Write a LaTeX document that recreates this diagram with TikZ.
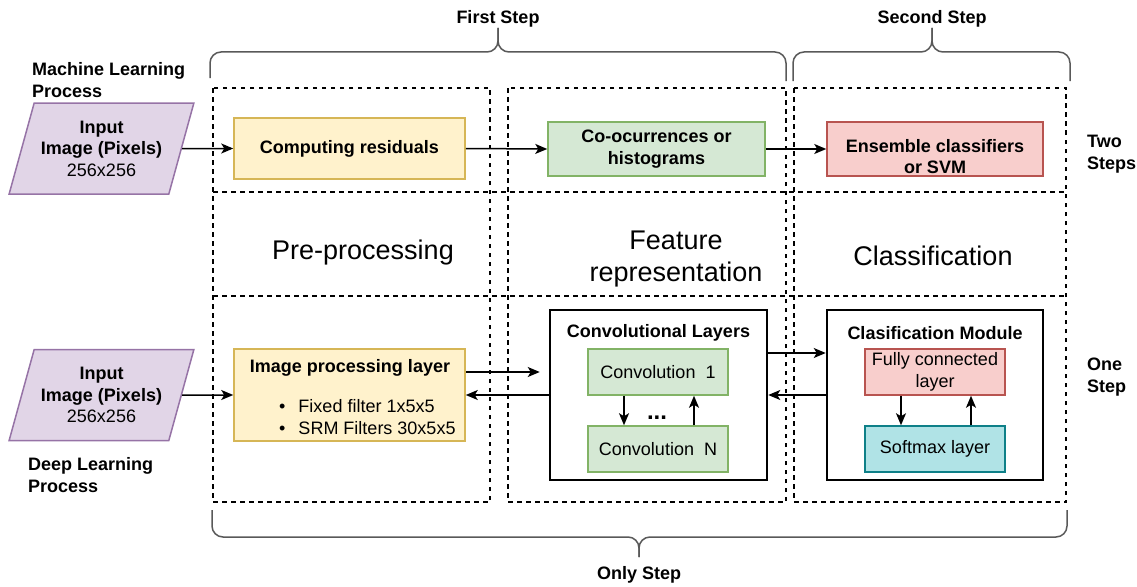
\documentclass[tikz,border=0pt]{standalone}
\usepackage{fontspec}
\setmainfont{Liberation Sans}
\usepackage{xcolor}
\usepackage{tikz}
\usetikzlibrary{arrows.meta,shapes.geometric,positioning}
\tikzset{>={Stealth[length=12pt,width=10pt,inset=3pt]}}
\definecolor{inpfill}{HTML}{E1D5E7}
\definecolor{inpdraw}{HTML}{9673A6}
\definecolor{yelfill}{HTML}{FFF2CC}
\definecolor{yeldraw}{HTML}{D6B656}
\definecolor{grnfill}{HTML}{D5E8D4}
\definecolor{grndraw}{HTML}{82B366}
\definecolor{redfill}{HTML}{F8CECC}
\definecolor{reddraw}{HTML}{B85450}
\definecolor{cyfill}{HTML}{B0E3E6}
\definecolor{cydraw}{HTML}{0E8088}
\newcommand{\mysize}{\fontsize{18}{21.6}\selectfont}
\newcommand{\mybig}{\fontsize{27}{32.4}\selectfont}

\begin{document}
\begin{tikzpicture}[x=1pt,y=-1pt,
                    every node/.style={inner sep=0pt, font=\mysize, align=center},
                    mydash/.style={line width=1.5pt, dash pattern=on 4.5pt off 4.5pt},
                    mybrace/.style={line width=1.5pt, black!65, rounded corners=11pt},
                    conn/.style={line width=1.5pt, ->},
                    colbox/.style 2 args={draw=#1, fill=#2, line width=1.5pt},
                    module/.style={draw, fill=white, line width=2.5pt, minimum width=217pt, minimum height=170pt},
                    inputbox/.style={trapezium, trapezium left angle=68, trapezium right angle=112,
                                     trapezium stretches=true, minimum width=185pt, minimum height=91pt,
                                     colbox={inpdraw}{inpfill}},
                   ]

\useasboundingbox (0,0) rectangle (1137,586);

\draw[mydash] (213,88) rectangle (490,502);
\draw[mydash] (508,88) rectangle (786,502);
\draw[mydash] (794,88) rectangle (1066,502);
\draw[mydash] (213,192) -- (1066,192);
\draw[mydash] (213,296) -- (1066,296);

\draw[mybrace] (210,78) |- (498,52) -- (498,28);
\draw[mybrace] (786,81) |- (498,52) -- (498,28);
\draw[mybrace] (793,81) |- (932,52) -- (932,28);
\draw[mybrace] (1070,81) |- (932,52) -- (932,28);
\draw[mybrace] (212,510) |- (639,537) -- (639,557);
\draw[mybrace] (1067,510) |- (639,537) -- (639,557);

\node (first) at (498,19) {\bfseries First Step};
\node (second) at (932,19) {\bfseries Second Step};
\node (only) at (639,575) {\bfseries Only Step};

\node[anchor=west, align=left] (mlp) at (32,80) {\bfseries Machine Learning\\\bfseries Process};
\node[anchor=west, align=left] (dlp) at (28,475) {\bfseries Deep Learning\\\bfseries Process};
\node[anchor=west, align=left] (two) at (1087,154) {\bfseries Two\\\bfseries Steps};
\node[anchor=west, align=left] (one) at (1087,377) {\bfseries One\\\bfseries Step};

\node[font=\mybig] (prep) at (363,253) {Pre-processing};
\node[font=\mybig] (feat) at (676,259) {Feature\\representation};
\node[font=\mybig] (clas) at (933,256) {Classification};

\node[inputbox] (mlin) at (101.5,148.5) {\bfseries Input\\\bfseries Image (Pixels)\\256x256};
\node[inputbox] (dlin) at (101.5,395) {\bfseries Input\\\bfseries Image (Pixels)\\256x256};

\node[colbox={yeldraw}{yelfill}, minimum width=231pt, minimum height=61pt] (resid) at (349.5,148.5) {\bfseries Computing residuals};
\node[colbox={grndraw}{grnfill}, minimum width=217pt, minimum height=54pt] (cooc) at (656.5,149) {\bfseries Co-ocurrences or\\\bfseries histograms};
\node[colbox={reddraw}{redfill}, minimum width=216pt, minimum height=54pt] (ens) at (935,149) {};
\node (enstext) at (935,156.5) {\bfseries Ensemble classifiers\\\bfseries or SVM};

\node[colbox={yeldraw}{yelfill}, minimum width=231pt, minimum height=92pt] (ipl) at (349.5,395) {};
\node (ipltitle) at (350,368) {\bfseries Image processing layer};
\node[anchor=west, align=left] (ipllist) at (279,419) {\begin{tabular}{@{}l@{\hspace{13pt}}l@{}}\textbullet & Fixed filter 1x5x5\\ \textbullet & SRM Filters 30x5x5\end{tabular}};

\node[module] (convl) at (658.5,395) {};
\node (convtitle) at (658.5,333) {\bfseries Convolutional Layers};
\node[colbox={grndraw}{grnfill}, minimum width=140pt, minimum height=46pt] (conv1) at (658,372) {Convolution~~1};
\node[colbox={grndraw}{grnfill}, minimum width=140pt, minimum height=46pt] (convn) at (658,449) {Convolution~~N};
\node[font=\fontsize{24}{28}\selectfont] (dots) at (657,418) {\bfseries ...};

\node[module, minimum width=216pt] (cmod) at (935,395) {};
\node (cmodtitle) at (935,333) {\bfseries Clasification Module};
\node[colbox={reddraw}{redfill}, minimum width=140pt, minimum height=46pt] (fc) at (935,372) {Fully connected\\layer};
\node[colbox={cydraw}{cyfill}, minimum width=140pt, minimum height=46pt] (soft) at (935,449) {Softmax layer};

\draw[conn] (mlin.east) -- (resid.west);
\draw[conn] (resid.east) -- (cooc.west);
\draw[conn] (cooc.east) -- (ens.west);

\draw[conn] (dlin.east) -- (ipl.west);
\draw[conn] ([yshift=23pt]ipl.east) -- ([xshift=-9pt,yshift=23pt]convl.west);
\draw[conn] (convl.west) -- (ipl.east);
\draw[conn] ([yshift=42pt]convl.east) -- ([yshift=42pt]cmod.west);
\draw[conn] (cmod.west) -- (convl.east);

\draw[conn] ([xshift=-34pt]conv1.south) -- ([xshift=-34pt]convn.north);
\draw[conn] ([xshift=36pt]convn.north) -- ([xshift=36pt]conv1.south);
\draw[conn] ([xshift=-34pt]fc.south) -- ([xshift=-34pt]soft.north);
\draw[conn] ([xshift=36pt]soft.north) -- ([xshift=36pt]fc.south);

\end{tikzpicture}
\end{document}
